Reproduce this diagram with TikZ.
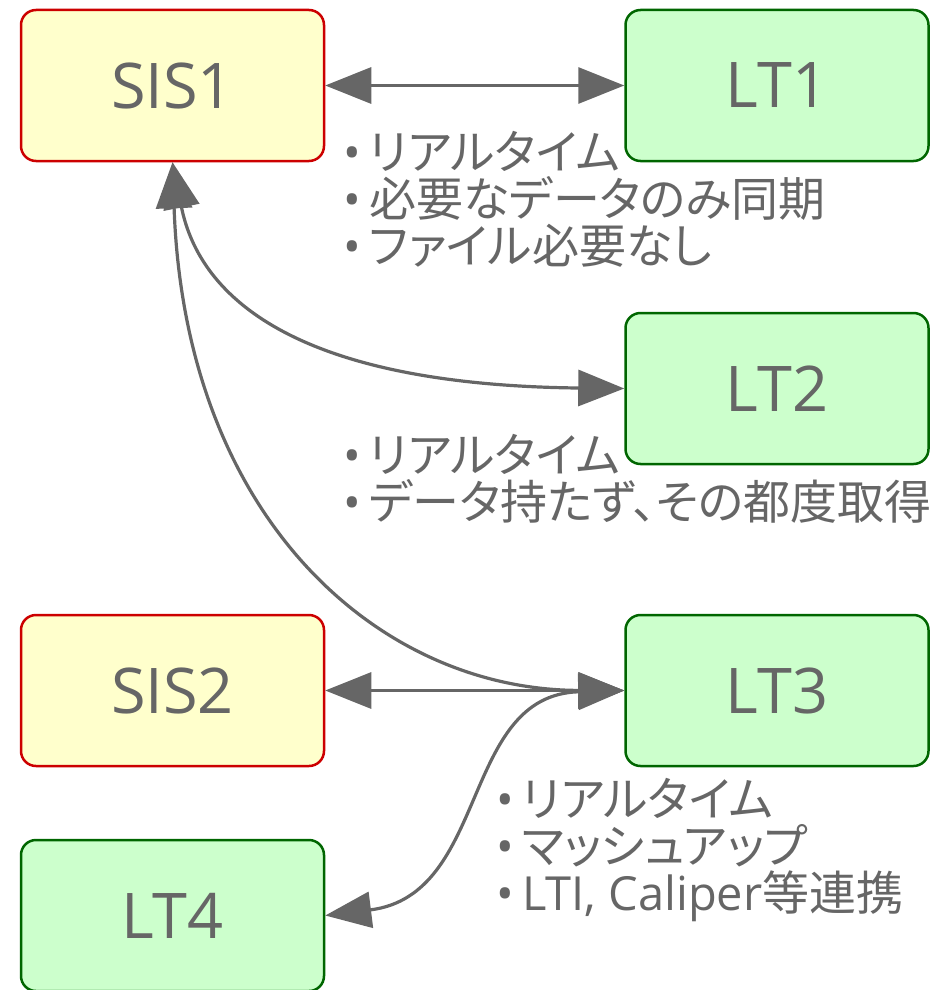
\documentclass[tikz,border=0pt]{standalone}
\usepackage{fontspec}
\setmainfont{Open Sans}
\newfontfamily\jp[RawFeature=+palt]{Noto Sans CJK JP}
\usetikzlibrary{arrows.meta}
\definecolor{txt}{HTML}{666666}
\definecolor{sisfill}{HTML}{FFFFCC}
\definecolor{sisdraw}{HTML}{CC0000}
\definecolor{ltfill}{HTML}{CCFFCC}
\definecolor{ltdraw}{HTML}{006600}
\newcommand{\bul}{\makebox[26pt][l]{•}}
\tikzset{
  box/.style={rounded corners=15pt, minimum width=303pt, minimum height=151pt, line width=2.5pt, text=txt, font=\fontsize{63}{70}\selectfont, inner sep=0pt},
  sis/.style={box, draw=sisdraw, fill=sisfill},
  lt/.style={box, draw=ltdraw, fill=ltfill},
  note/.style={text=txt, font=\fontsize{47}{47}\selectfont, align=left, anchor=west, inner sep=0pt},
  darr/.style={draw=txt, line width=3.2pt, {Triangle[length=46pt,width=36pt]}-{Triangle[length=46pt,width=36pt]}}
}
\begin{document}
\begin{tikzpicture}[x=1pt,y=-1pt]
\useasboundingbox (0,0) rectangle (946,990);
\node[sis] (sis1) at (172.5,85.5) {SIS1};
\node[lt] (lt1) at (777,85.5) {LT1};
\node[lt] (lt2) at (777,388.5) {LT2};
\node[sis] (sis2) at (172.5,690.5) {SIS2};
\node[lt] (lt3) at (777,690.5) {LT3};
\node[lt] (lt4) at (172.5,915.5) {LT4};
\node[note] (n1) at (343,199) {\bul{\jp リアルタイム}\\\bul{\jp 必要なデータのみ同期}\\\bul{\jp ファイル必要なし}};
\node[note] (n2) at (343,479) {\bul{\jp リアルタイム}\\\bul{\jp データ持たず、その都度取得}};
\node[note] (n3) at (496,850) {\bul{\jp リアルタイム}\\\bul{\jp マッシュアップ}\\\bul LTI, Caliper{\jp 等連携}};
\draw[darr] (sis1.east) -- (lt1.west);
\draw[darr] (sis1.south) .. controls (200,300) and (300,385) .. (lt2.west);
\draw[darr] (sis1.south) .. controls (185,520) and (380,690) .. (lt3.west);
\draw[darr] (sis2.east) -- (lt3.west);
\draw[darr] (lt3.west) .. controls (460,695) and (490,895) .. (lt4.east);
\end{tikzpicture}
\end{document}
